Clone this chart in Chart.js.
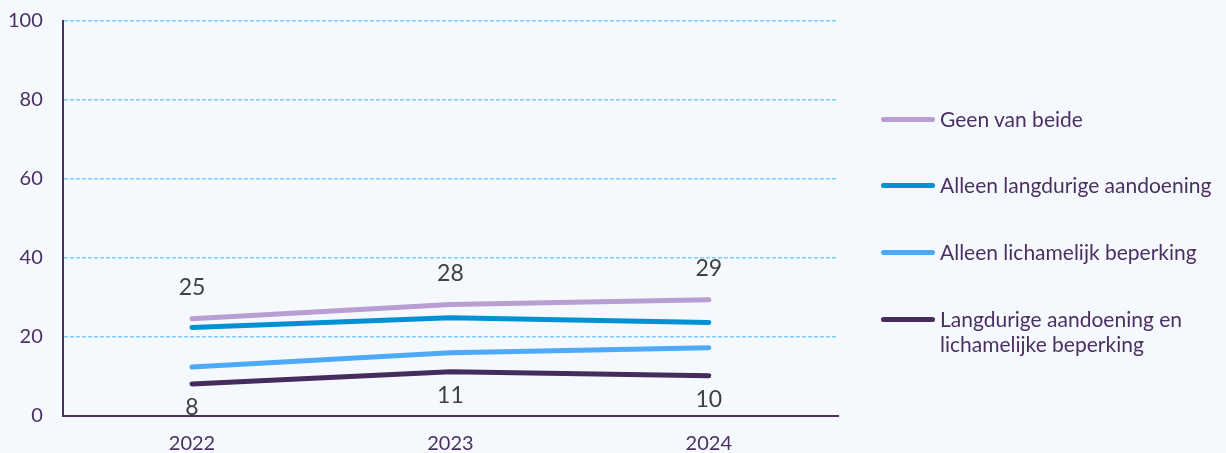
<!DOCTYPE html>
<html>
<head>
<meta charset="utf-8">
<script src="https://cdn.jsdelivr.net/npm/chart.js@4.4.1/dist/chart.umd.min.js"></script>
<style>
  html, body { margin: 0; padding: 0; background: #f5f9fe; overflow: hidden; }
  #wrap { position: relative; width: 1226px; height: 453px; overflow: hidden; }
  #chart { position: absolute; left: -12px; top: -11px; }
  #legend { position: absolute; left: 881px; top: -2px; font-family: Lato, sans-serif; font-size: 21px; color: #4a3060; }
  .item { position: absolute; left: 0; display: flex; align-items: flex-start; white-space: nowrap; line-height: 25px; }
  .swatch { width: 54px; height: 5px; border-radius: 3px; margin-top: 11px; margin-right: 5px; flex: none; }
</style>
</head>
<body>
<div id="wrap">
  <canvas id="chart" width="1238" height="483"></canvas>
  <div id="legend"></div>
</div>
<script>
// gegevens
const jaren = ['2022', '2023', '2024'];
const geenVanBeide = [24.6, 28.2, 29.4];
const alleenLangdurig = [22.4, 24.9, 23.7];
const alleenLichamelijk = [12.4, 16.0, 17.3];
const beide = [8.1, 11.2, 10.2];
const labelsBoven = ['25', '28', '29'];
const labelsOnder = ['8', '11', '10'];
const reeksNamen = ['Geen van beide', 'Alleen langdurige aandoening', 'Alleen lichamelijk beperking', 'Langdurige aandoening en\nlichamelijke beperking'];
const yTicks = [0, 20, 40, 60, 80, 100];

const kleuren = ['#b89ed2', '#0090d4', '#4eaaf8', '#452b5e'];

// waarden boven / onder de lijnen
const waardeLabels = {
  id: 'waardeLabels',
  afterDatasetsDraw(chart) {
    const c = chart.ctx;
    c.save();
    c.font = '23px Lato, sans-serif';
    c.fillStyle = '#404040';
    c.textAlign = 'center';
    c.textBaseline = 'middle';
    chart.getDatasetMeta(0).data.forEach((p, i) => {
      c.fillText(labelsBoven[i], p.x, p.y - 31);
    });
    chart.getDatasetMeta(3).data.forEach((p, i) => {
      c.fillText(labelsOnder[i], p.x, p.y + 24);
    });
    c.restore();
  }
};

const reeksen = [geenVanBeide, alleenLangdurig, alleenLichamelijk, beide];

new Chart(document.getElementById('chart'), {
  type: 'line',
  data: {
    labels: jaren,
    datasets: reeksen.map((d, i) => ({
      label: reeksNamen[i],
      data: d,
      borderColor: kleuren[i],
      borderWidth: 5,
      borderCapStyle: 'round',
      pointRadius: 0,
      tension: 0
    }))
  },
  options: {
    responsive: false,
    animation: false,
    layout: { padding: { top: 3, right: 388, left: 0, bottom: 0 } },
    plugins: { legend: { display: false }, tooltip: { enabled: false } },
    scales: {
      x: {
        offset: true,
        grid: { display: false, drawTicks: false },
        border: { color: '#4a3060', width: 2 },
        ticks: { color: '#4a3060', font: { family: 'Lato', size: 20 }, padding: 16 }
      },
      y: {
        min: 0,
        max: 100,
        afterBuildTicks(axis) { axis.ticks = yTicks.map(v => ({ value: v })); },
        grid: {
          drawTicks: false,
          color: (ctx) => ctx.tick && ctx.tick.value === 0 ? 'rgba(0,0,0,0)' : '#7fcbf7',
          lineWidth: 1.5
        },
        border: { color: '#4a3060', width: 2, dash: [4, 2] },
        ticks: { color: '#4a3060', font: { family: 'Lato', size: 20 }, padding: 20 }
      }
    }
  },
  plugins: [waardeLabels]
});

// legenda
const rijen = [108, 174, 241, 308];
const legend = document.getElementById('legend');
reeksNamen.forEach((naam, i) => {
  const item = document.createElement('div');
  item.className = 'item';
  item.style.top = rijen[i] + 'px';
  const sw = document.createElement('div');
  sw.className = 'swatch';
  sw.style.background = kleuren[i];
  const t = document.createElement('div');
  t.innerHTML = naam.replace('\n', '<br>');
  item.appendChild(sw);
  item.appendChild(t);
  legend.appendChild(item);
});
</script>
</body>
</html>
